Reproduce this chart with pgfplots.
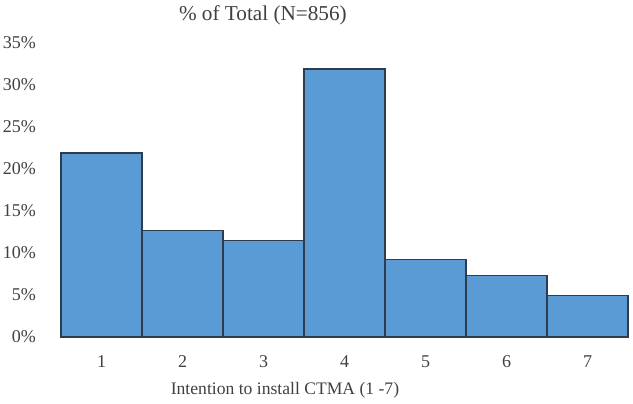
\documentclass[border=0pt]{standalone}
\usepackage{pgfplots}
\pgfplotsset{compat=1.18}
\usepackage{fontspec}
\setmainfont{Liberation Serif}
\definecolor{barfill}{HTML}{5B9BD5}
\definecolor{baredge}{HTML}{2E3D4E}
\begin{document}
\begin{tikzpicture}
  \begin{axis}[
      scale only axis,
      width=283.5pt,
      height=147pt,
      ybar,
      bar width=1,
      xmin=0.5, xmax=7.5,
      ymin=0, ymax=35,
      xtick={1,2,3,4,5,6,7},
      ytick={0,5,10,15,20,25,30,35},
      yticklabel={\pgfmathprintnumber{\tick}\%},
      /pgf/number format/assume math mode=true,
      axis line style={draw=none},
      major tick style={draw=none},
      tick label style={font=\fontsize{9}{10}\selectfont, text=black!75},
      yticklabel style={xshift=-9pt},
      xticklabel style={yshift=-1.5pt},
      clip=false
    ]
    \addplot[fill=barfill, draw=baredge, line width=0.6pt] coordinates {
      (1,21.9) (2,12.7) (3,11.5) (4,31.9) (5,9.2) (6,7.3) (7,4.9)
    };
    \node[font=\fontsize{10.6}{12}\selectfont, text=black!75] at (rel axis cs:0.356,1.095) {\% of Total (N=856)};
    \node[font=\fontsize{8.8}{10}\selectfont, text=black!75] at (rel axis cs:0.395,-0.18) {Intention to install CTMA (1 -7)};
    \coordinate (bbA) at (rel axis cs:-0.1076,-0.2245);
    \coordinate (bbB) at (rel axis cs:1.0088,1.1463);
  \end{axis}
  \pgfresetboundingbox
  \path (bbA) rectangle (bbB);
\end{tikzpicture}
\end{document}
